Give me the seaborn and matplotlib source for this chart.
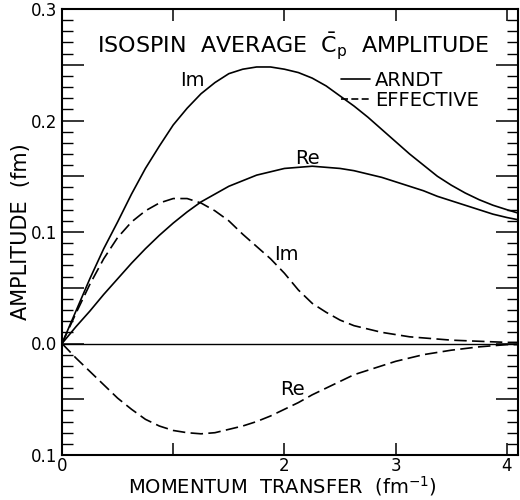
import numpy as np
import pandas as pd
import matplotlib
matplotlib.use("Agg")
import matplotlib.pyplot as plt
from matplotlib.ticker import FixedLocator, MultipleLocator
from matplotlib.lines import Line2D
import seaborn as sns

# ---- data ----
q = [0.0, 0.125, 0.25, 0.375, 0.5, 0.625, 0.75, 0.875, 1.0, 1.125, 1.25,
     1.375, 1.5, 1.625, 1.75, 1.875, 2.0, 2.125, 2.25, 2.375, 2.5, 2.625,
     2.75, 2.875, 3.0, 3.125, 3.25, 3.375, 3.5, 3.625, 3.75, 3.875, 4.0,
     4.1]
arndt_im = [0.0, 0.029, 0.058, 0.085, 0.109, 0.134, 0.157, 0.177, 0.196,
            0.211, 0.224, 0.234, 0.242, 0.246, 0.248, 0.248, 0.246, 0.243,
            0.238, 0.231, 0.222, 0.213, 0.203, 0.192, 0.181, 0.170, 0.160,
            0.150, 0.142, 0.135, 0.129, 0.124, 0.120, 0.117]
arndt_re = [0.0, 0.015, 0.029, 0.044, 0.058, 0.072, 0.085, 0.097, 0.108,
            0.118, 0.127, 0.134, 0.141, 0.146, 0.151, 0.154, 0.157, 0.158,
            0.159, 0.158, 0.157, 0.155, 0.152, 0.149, 0.145, 0.141, 0.137,
            0.132, 0.128, 0.124, 0.120, 0.116, 0.113, 0.111]
eff_im = [0.0, 0.027, 0.053, 0.076, 0.095, 0.109, 0.119, 0.126, 0.130,
          0.130, 0.126, 0.119, 0.110, 0.098, 0.087, 0.076, 0.063, 0.048,
          0.036, 0.028, 0.021, 0.016, 0.013, 0.010, 0.008, 0.006, 0.005,
          0.004, 0.003, 0.0025, 0.002, 0.0015, 0.001, 0.001]
eff_re = [0.0, -0.013, -0.025, -0.037, -0.049, -0.059, -0.068, -0.074,
          -0.078, -0.080, -0.081, -0.080, -0.077, -0.074, -0.070, -0.065,
          -0.059, -0.053, -0.046, -0.040, -0.034, -0.028, -0.024, -0.020,
          -0.016, -0.013, -0.010, -0.008, -0.006, -0.0045, -0.003, -0.002,
          -0.001, -0.001]

models = ["ARNDT", "EFFECTIVE"]
parts = ["Im", "Re"]
x_ticks = [0, 1, 2, 3, 4]
x_ticklabels = ["0", "", "2", "3", "4"]
y_ticks = [-0.1, -0.05, 0.0, 0.05, 0.1, 0.15, 0.2, 0.25, 0.3]
y_ticklabels = ["0.1", "", "0.0", "", "0.1", "", "0.2", "", "0.3"]

title = r"ISOSPIN  AVERAGE  $\bar{\mathrm{C}}_{\mathrm{p}}$  AMPLITUDE"
xlabel = r"MOMENTUM  TRANSFER  (fm$^{-1}$)"
ylabel = "AMPLITUDE  (fm)"

series = {("ARNDT", "Im"): arndt_im, ("ARNDT", "Re"): arndt_re,
          ("EFFECTIVE", "Im"): eff_im, ("EFFECTIVE", "Re"): eff_re}
rows = []
for (m, p), vals in series.items():
    for xi, yi in zip(q, vals):
        rows.append({"q": xi, "amp": yi, "model": m, "part": p})
df = pd.DataFrame(rows)

# ---- styling ----
sns.set_style("ticks")
plt.rcParams["font.family"] = ["DejaVu Sans"]
plt.rcParams["mathtext.fontset"] = "dejavusans"
plt.rcParams["mathtext.default"] = "regular"
plt.rcParams["text.color"] = "black"
plt.rcParams["axes.labelcolor"] = "black"
plt.rcParams["xtick.color"] = "black"
plt.rcParams["ytick.color"] = "black"

fig = plt.figure(figsize=(5.2, 5.0), dpi=100)
ax = fig.add_axes([62 / 520, 45 / 500, 456 / 520, 446 / 500])

sns.lineplot(data=df, x="q", y="amp", style="model", units="part",
             estimator=None, color="black", linewidth=1.2,
             dashes={"ARNDT": "", "EFFECTIVE": (7.5, 3.2)},
             legend=False, ax=ax, sort=False)
ax.axhline(0, color="black", linewidth=1.0, zorder=1)

ax.set_xlim(0, 4.1)
ax.set_ylim(-0.1, 0.3)

for s in ax.spines.values():
    s.set_visible(True)
    s.set_linewidth(1.5)
    s.set_color("black")

ax.xaxis.set_major_locator(FixedLocator(x_ticks))
ax.set_xticklabels(x_ticklabels)
ax.yaxis.set_major_locator(FixedLocator(y_ticks))
ax.set_yticklabels(y_ticklabels)
ax.yaxis.set_minor_locator(MultipleLocator(0.01))

ax.tick_params(axis="x", which="major", direction="in", top=True,
               bottom=True, length=8.5, width=1.1, labelsize=12, pad=1.5,
               colors="black")
ax.tick_params(axis="y", which="major", direction="in", left=True,
               right=True, length=16, width=1.1, labelsize=12, pad=3.5,
               colors="black")
ax.tick_params(axis="y", which="minor", direction="in", left=True,
               right=True, length=8, width=1.0, colors="black")
ax.tick_params(axis="x", which="minor", bottom=False, top=False)

ax.set_xlabel(xlabel, fontsize=14, color="black")
ax.set_ylabel(ylabel, fontsize=15, color="black")
ax.xaxis.set_label_coords(0.483, -0.042)
ax.yaxis.set_label_coords(-0.068, 0.5)

ax.text(0.507, 0.901, title, transform=ax.transAxes, ha="center",
        va="baseline", fontsize=16, color="black")

# curve annotations
ax.text(1.17, 0.236, "Im", fontsize=14, ha="center", va="center")
ax.text(2.21, 0.166, "Re", fontsize=14, ha="center", va="center")
ax.text(2.02, 0.080, "Im", fontsize=14, ha="center", va="center")
ax.text(2.07, -0.041, "Re", fontsize=14, ha="center", va="center")

handles = [Line2D([], [], color="black", lw=1.2, linestyle="-"),
           Line2D([], [], color="black", lw=1.2, dashes=(4.2, 2.0))]
leg = ax.legend(handles, models, loc="upper left",
                bbox_to_anchor=(0.612, 0.862), frameon=False, fontsize=14,
                handlelength=1.5, handletextpad=0.25, labelspacing=0.05,
                borderpad=0, borderaxespad=0)
for t in leg.get_texts():
    t.set_color("black")

fig.savefig("out.png", dpi=100)
